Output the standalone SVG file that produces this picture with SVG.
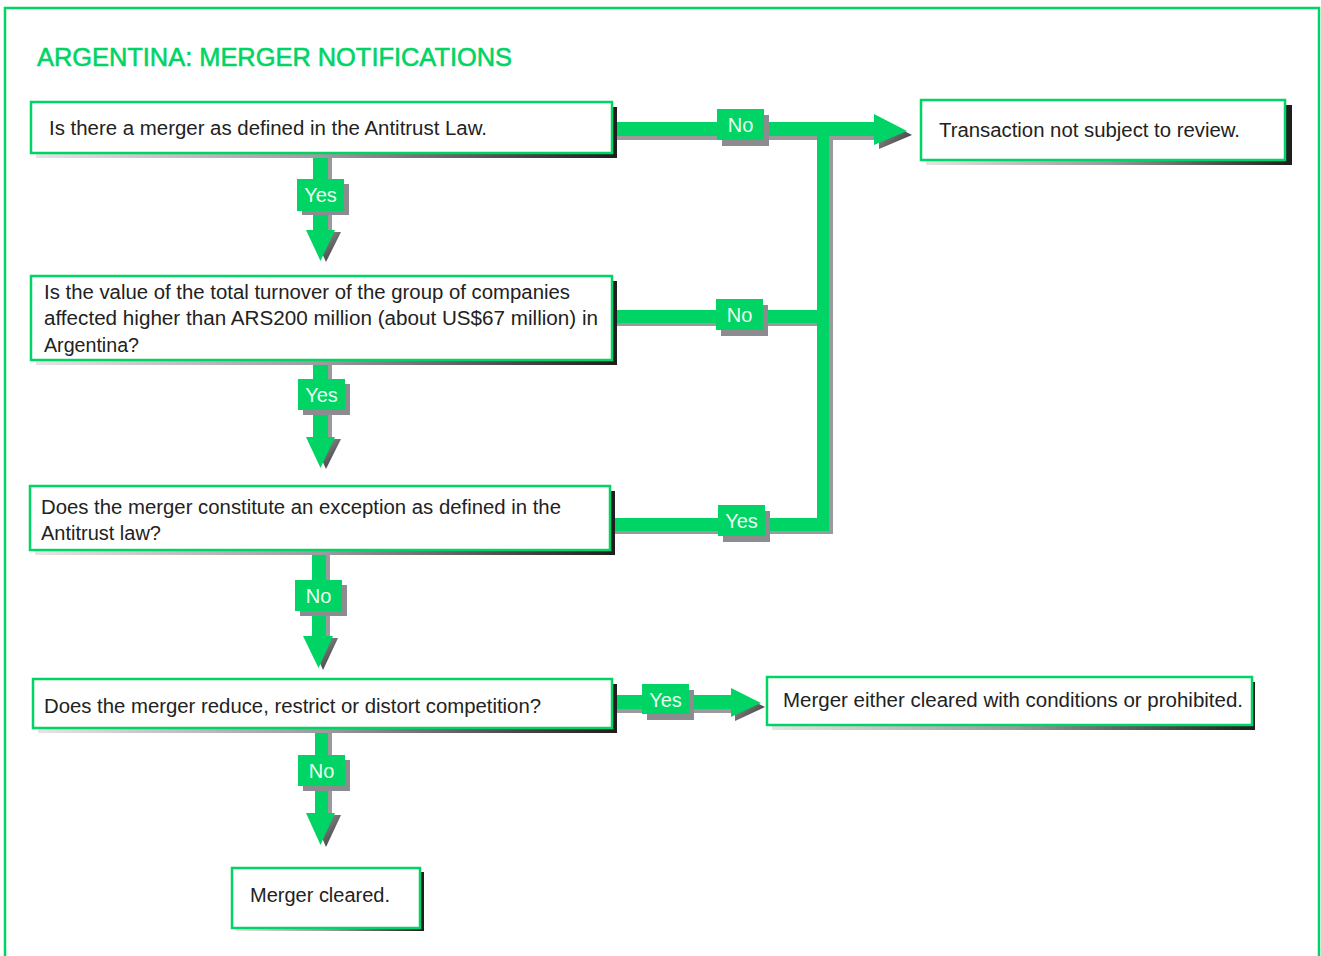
<svg xmlns="http://www.w3.org/2000/svg" width="1321" height="956" viewBox="0 0 1321 956">
<defs>
<linearGradient id="shd" x1="0" y1="0" x2="1" y2="0">
<stop offset="0" stop-color="#e4e4e4"/>
<stop offset="0.5" stop-color="#9a9a9e"/>
<stop offset="1" stop-color="#1e1e1e"/>
</linearGradient>
<linearGradient id="hshd" x1="0" y1="0" x2="1" y2="1">
<stop offset="0" stop-color="#b0b0b4"/>
<stop offset="1" stop-color="#2a2a2a"/>
</linearGradient>
<style>
.frame{fill:none;stroke:#00d464;stroke-width:2.5}
.title{font-family:"Liberation Sans",Arial,sans-serif;font-size:26px;fill:#00d464;stroke:#00d464;stroke-width:0.6}
.box{fill:#fff;stroke:#00d464;stroke-width:2.5}
.bshadow{fill:url(#shd)}
.t{font-family:"Liberation Sans",Arial,sans-serif;font-size:20px;fill:#222}
.g{fill:#00d464}
.gs{fill:#9a9a9e}
.hs{fill:url(#hshd)}
.lbs{fill:#8c8c90}
.lt{font-family:"Liberation Sans",Arial,sans-serif;font-size:20px;fill:#eafff0;text-anchor:middle}
</style>
</defs>
<rect x="0" y="0" width="1321" height="956" fill="#fff"/>
<rect class="frame" x="5" y="8" width="1314" height="970"/>
<text class="title" x="37" y="66" textLength="475" lengthAdjust="spacingAndGlyphs">ARGENTINA: MERGER NOTIFICATIONS</text>

<g id="connectors">
<g id="c1">
<rect class="gs" x="612" y="126" width="264" height="14"/>
<polygon class="hs" points="879,118 912,135 879,149"/>
<rect class="g" x="612" y="122" width="264" height="14"/>
<polygon class="g" points="874,114 907,131 874,145"/>
</g>
<g id="c2">
<rect class="gs" x="821" y="136" width="12" height="398"/>
<rect class="gs" x="612" y="314" width="211" height="12"/>
<rect class="gs" x="610" y="522" width="221" height="12"/>
<rect class="g" x="817" y="134" width="12" height="397"/>
<rect class="g" x="612" y="310" width="211" height="13"/>
<rect class="g" x="610" y="518" width="219" height="13"/>
</g>
<g id="c3">
<rect class="gs" x="317" y="153" width="15" height="80"/>
<polygon class="hs" points="312,232 341,232 326,262"/>
<rect class="g" x="313" y="153" width="15" height="79"/>
<polygon class="g" points="306,230 335,230 320.5,261"/>
</g>
<g id="c4">
<rect class="gs" x="317" y="360" width="15" height="80"/>
<polygon class="hs" points="312,439 341,439 326,469"/>
<rect class="g" x="313" y="360" width="15" height="79"/>
<polygon class="g" points="306,437 335,437 320.5,468"/>
</g>
<g id="c5">
<rect class="gs" x="316" y="550" width="14" height="90"/>
<polygon class="hs" points="309,638 338,638 323,670"/>
<rect class="g" x="312" y="550" width="14" height="88"/>
<polygon class="g" points="303,636 333,636 318.5,668"/>
</g>
<g id="c6">
<rect class="gs" x="612" y="699" width="121" height="14"/>
<polygon class="hs" points="735,692 765,707 735,721"/>
<rect class="g" x="612" y="695" width="121" height="14"/>
<polygon class="g" points="731,688 761,703 731,717"/>
</g>
<g id="c7">
<rect class="gs" x="319" y="728" width="13" height="88"/>
<polygon class="hs" points="312,815 341,815 326,847"/>
<rect class="g" x="315" y="728" width="13" height="87"/>
<polygon class="g" points="306,813 335,813 320.5,845"/>
</g>
<g id="labels">
<rect class="lbs" x="722" y="115" width="47" height="31"/>
<rect class="g" x="717" y="109" width="47" height="31"/>
<text class="lt" x="740.5" y="132">No</text>

<rect class="lbs" x="721" y="305" width="47" height="31"/>
<rect class="g" x="716" y="299" width="47" height="31"/>
<text class="lt" x="739.5" y="322">No</text>

<rect class="lbs" x="723" y="511" width="47" height="31"/>
<rect class="g" x="718" y="505" width="47" height="31"/>
<text class="lt" x="741.5" y="528">Yes</text>

<rect class="lbs" x="302" y="184" width="47" height="31"/>
<rect class="g" x="297" y="179" width="47" height="32"/>
<text class="lt" x="320.5" y="202">Yes</text>

<rect class="lbs" x="303" y="384" width="47" height="31"/>
<rect class="g" x="298" y="379" width="47" height="31"/>
<text class="lt" x="321.5" y="402">Yes</text>

<rect class="lbs" x="300" y="585" width="47" height="31"/>
<rect class="g" x="295" y="580" width="47" height="31"/>
<text class="lt" x="318.5" y="603">No</text>

<rect class="lbs" x="647" y="690" width="47" height="30"/>
<rect class="g" x="642" y="684" width="47" height="30"/>
<text class="lt" x="665.5" y="707">Yes</text>

<rect class="lbs" x="303" y="760" width="47" height="31"/>
<rect class="g" x="298" y="755" width="47" height="31"/>
<text class="lt" x="321.5" y="778">No</text>
</g>
</g>

<g id="n1">
<rect class="bshadow" x="36" y="107" width="581" height="51"/>
<rect class="box" x="31" y="102" width="581" height="51"/>
<text class="t" x="49" y="135" textLength="438" lengthAdjust="spacingAndGlyphs">Is there a merger as defined in the Antitrust Law.</text>
</g>
<g id="n2">
<rect class="bshadow" x="926" y="105" width="366" height="60"/>
<rect class="box" x="921" y="100" width="364" height="60"/>
<text class="t" x="939" y="137" textLength="301" lengthAdjust="spacingAndGlyphs">Transaction not subject to review.</text>
</g>
<g id="n3">
<rect class="bshadow" x="36" y="281" width="581" height="84"/>
<rect class="box" x="31" y="276" width="581" height="84"/>
<text class="t" x="44" y="299" textLength="526" lengthAdjust="spacingAndGlyphs">Is the value of the total turnover of the group of companies</text>
<text class="t" x="44" y="325" textLength="554" lengthAdjust="spacingAndGlyphs">affected higher than ARS200 million (about US$67 million) in</text>
<text class="t" x="44" y="352" textLength="95" lengthAdjust="spacingAndGlyphs">Argentina?</text>
</g>
<g id="n4">
<rect class="bshadow" x="35" y="491" width="580" height="64"/>
<rect class="box" x="30" y="486" width="580" height="64"/>
<text class="t" x="41" y="514" textLength="520" lengthAdjust="spacingAndGlyphs">Does the merger constitute an exception as defined in the</text>
<text class="t" x="41" y="540" textLength="120" lengthAdjust="spacingAndGlyphs">Antitrust law?</text>
</g>
<g id="n5">
<rect class="bshadow" x="38" y="684" width="579" height="49"/>
<rect class="box" x="33" y="679" width="579" height="49"/>
<text class="t" x="44" y="713" textLength="497" lengthAdjust="spacingAndGlyphs">Does the merger reduce, restrict or distort competition?</text>
</g>
<g id="n6">
<rect class="bshadow" x="772" y="682" width="483" height="48"/>
<rect class="box" x="767" y="677" width="485" height="48"/>
<text class="t" x="783" y="707" textLength="460" lengthAdjust="spacingAndGlyphs">Merger either cleared with conditions or prohibited.</text>
</g>
<g id="n7">
<rect class="bshadow" x="236" y="872" width="188" height="59"/>
<rect class="box" x="232" y="868" width="188" height="60"/>
<text class="t" x="250" y="902" textLength="140" lengthAdjust="spacingAndGlyphs">Merger cleared.</text>
</g>
</svg>
